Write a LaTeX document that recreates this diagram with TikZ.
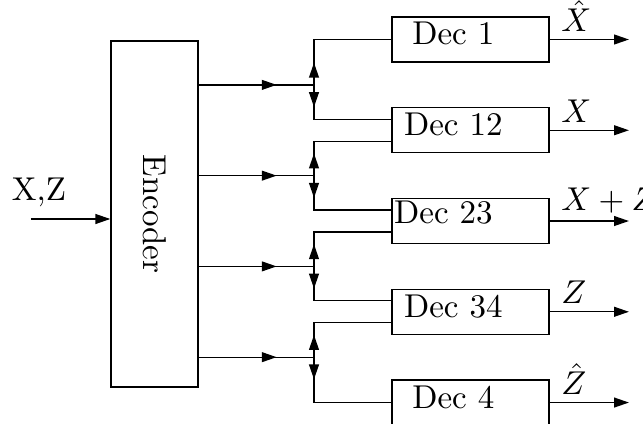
\documentclass[tikz,border=0pt]{standalone}
\usetikzlibrary{arrows.meta,positioning,calc,decorations.markings}

\begin{document}
\begin{tikzpicture}[x=0.303pt, y=0.303pt, >={Triangle[length=4.5pt,width=3pt]},
    block/.style={rectangle, draw=black, minimum width=47.6pt, minimum height=13.6pt, inner sep=0pt},
    declbl/.style={xshift=-5.2pt, yshift=1.7pt},
    outlbl/.style={above right, inner ysep=2.2pt, pos=0},
    midarr/.style={postaction={decorate}, decoration={markings, mark=at position #1 with {\arrow{>}}}},
    node distance=13.5pt]
    \useasboundingbox (0,0) rectangle (643,423);
    \node[block, minimum width=26.4pt, minimum height=104.8pt] (enc) at (154.5,209) {\rotatebox{-90}{Encoder}};
    \node[block, label={[declbl]center:Dec 1}] (d1) at (470.5,383.5) {};
    \node[block, below=of d1, label={[declbl]center:Dec 12}] (d12) {};
    \node[block, below=of d12, label={[declbl, xshift=-3pt, yshift=1pt]center:Dec 23}] (d23) {};
    \node[block, below=of d23, label={[declbl]center:Dec 34}] (d34) {};
    \node[block, below=of d34, label={[declbl]center:Dec 4}] (d4) {};
    % input
    \coordinate (in) at (31,204);
    \draw[->] (in) -- node[above, pos=0.1] {X,Z} (in -| enc.west);
    % encoder outputs and splits
    \coordinate (bus) at (314,0);
    \foreach \a/\b/\i in {d1/d12/1, d12/d23/2, d23/d34/3, d34/d4/4} {
      \coordinate (m\i) at ($(\a)!0.5!(\b)$);
      \coordinate (s\i) at (bus |- m\i);
      \draw[midarr=23.6pt] (enc.east |- m\i) -- (s\i);
    }
    \draw[midarr=6.7pt] (s1) |- (d1.west);
    \draw[midarr=6.7pt] (s1) |- ($(d12.west)+(0,11)$);
    \draw[midarr=6.7pt] (s2) |- ($(d12.west)+(0,-11)$);
    \draw[midarr=6.7pt] (s2) |- ($(d23.west)+(0,11)$);
    \draw[midarr=6.7pt] (s3) |- ($(d23.west)+(0,-11)$);
    \draw[midarr=6.7pt] (s3) |- ($(d34.west)+(0,11)$);
    \draw[midarr=6.7pt] (s4) |- ($(d34.west)+(0,-11)$);
    \draw[midarr=6.7pt] (s4) |- (d4.west);
    % outputs
    \coordinate[right=24pt of d1.east] (o1);
    \coordinate[right=24pt of d12.east] (o12);
    \coordinate[right=24pt of d23.east] (o23);
    \coordinate[right=24pt of d34.east] (o34);
    \coordinate[right=24pt of d4.east] (o4);
    \draw[->] (d1) -- node[outlbl] {$\hat{X}$} (o1);
    \draw[->] (d12) -- node[outlbl] {$X$} (o12);
    \draw[->] (d23) -- node[outlbl] {$X+Z$} (o23);
    \draw[->] (d34) -- node[outlbl] {$Z$} (o34);
    \draw[->] (d4) -- node[outlbl] {$\hat{Z}$} (o4);
\end{tikzpicture}
\end{document}
